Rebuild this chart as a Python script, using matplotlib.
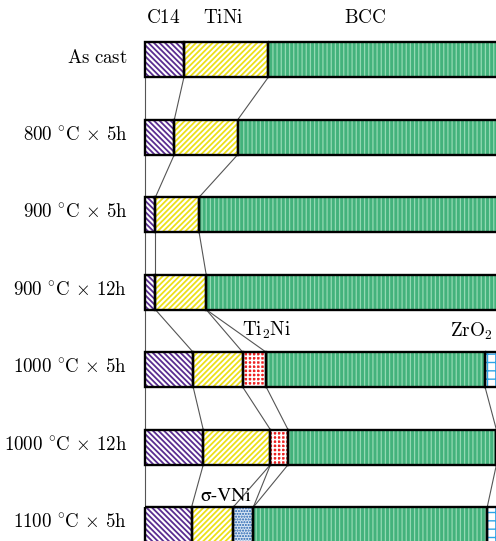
import numpy as np
import matplotlib.pyplot as plt

plt.rcParams['mathtext.fontset'] = 'cm'

# treatment conditions (top to bottom)
conditions = [r'$\mathrm{As\ cast}$',
              r'$\mathrm{800\ ^{\circ}C\,\times\,5h}$',
              r'$\mathrm{900\ ^{\circ}C\,\times\,5h}$',
              r'$\mathrm{900\ ^{\circ}C\,\times\,12h}$',
              r'$\mathrm{1000\ ^{\circ}C\,\times\,5h}$',
              r'$\mathrm{1000\ ^{\circ}C\,\times\,12h}$',
              r'$\mathrm{1100\ ^{\circ}C\,\times\,5h}$']

# phase fractions in %
c14 = [9.3, 7.0, 2.5, 2.5, 11.5, 13.9, 11.1]
tini = [20.1, 15.1, 10.4, 12.1, 11.8, 16.0, 9.9]
sigma_vni = [0, 0, 0, 0, 0, 0, 4.8]
ti2ni = [0, 0, 0, 0, 5.6, 4.2, 0]
bcc = [70.6, 77.9, 87.1, 85.4, 52.1, 49.6, 55.7]
zro2 = [0, 0, 0, 0, 19.0, 16.3, 18.5]

# face colour, hatch colour, hatch, hatch linewidth
styles = [('white', '#5a2d91', '\\\\\\\\\\\\', 1.3),
          ('white', '#ece01a', '//////', 1.3),
          ('#d8e6f4', '#1f5fae', '......', 1.0),
          ('#ee2020', 'white', '++++', 1.2),
          ('#43b27c', '#93d9b3', '||||', 0.9),
          ('white', '#2ea4e6', '++', 1.0)]

fracs = np.array([c14, tini, sigma_vni, ti2ni, bcc, zro2]).T
n = len(conditions)
rows = np.arange(n)
h = 0.45

fig = plt.figure(figsize=(4.96, 5.41), dpi=100)
ax = fig.add_axes([0, 0, 1, 1])
ax.set_xlim(-34.5, 83.6)
ax.set_ylim(6.21, -0.77)
ax.axis('off')

left = np.zeros(n)
for j, (face, hc, hatch, hlw) in enumerate(styles):
    plt.rcParams['hatch.linewidth'] = hlw
    w = fracs[:, j]
    m = w > 0
    ax.barh(rows[m], w[m], left=left[m], height=h, color=face,
            edgecolor=hc, hatch=hatch, lw=0)
    ax.barh(rows[m], w[m], left=left[m], height=h, fill=False,
            edgecolor='black', lw=1.7, zorder=3)
    left += w

# lines linking the phase boundaries of neighbouring bars
cum = np.hstack([np.zeros((n, 1)), np.cumsum(fracs, axis=1)])
for i in range(n - 1):
    done = set()
    for k in range(cum.shape[1]):
        a, b = cum[i, k], cum[i + 1, k]
        key = (round(a, 3), round(b, 3))
        if a < 99.9 and b < 99.9 and key not in done:
            done.add(key)
            ax.plot([a, b], [i + h / 2, i + 1 - h / 2], color='#555555', lw=0.8)

for i, lab in enumerate(conditions):
    ax.text(-4.2, i - 0.03, lab, ha='right', va='center', fontsize=13.6)

ax.text(4.4, -0.55, r'$\mathrm{C14}$', ha='center', va='center', fontsize=13.8)
ax.text(18.6, -0.55, r'$\mathrm{TiNi}$', ha='center', va='center', fontsize=13.8)
ax.text(52.4, -0.55, r'$\mathrm{BCC}$', ha='center', va='center', fontsize=13.8)
ax.text(29.0, 3.49, r'$\mathrm{Ti_2Ni}$', ha='center', va='center', fontsize=13.8)
ax.text(82.9, 3.50, r'$\mathrm{ZrO_2}$', ha='right', va='center', fontsize=13.8)
ax.text(19.3, 5.64, 'σ-VNi', ha='center', va='center', fontsize=14,
        family='STIXGeneral')

fig.savefig('out.png', dpi=100)
